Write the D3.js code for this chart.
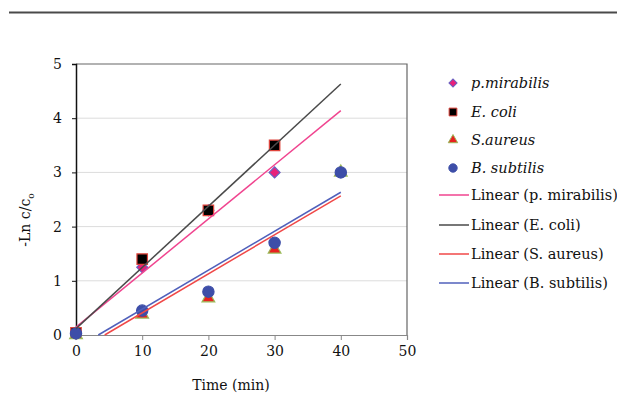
<!DOCTYPE html>
<html>
<head>
<meta charset="utf-8">
<script src="https://cdn.jsdelivr.net/npm/d3@7"></script>
<style>
  body { margin: 0; background: #fff; }
  text { font-family: 'DejaVu Serif', serif; }
</style>
</head>
<body>
<div class="canvas"></div>
<script>
// time points (min)
const times = [0, 10, 20, 30, 40]

// -Ln c/c0 per organism
const mirabilis = [0.02, 1.25, 2.3, 3.0]
const ecoli = [0.04, 1.4, 2.3, 3.5]
const aureus = [0.0, 0.38, 0.68, 1.58, 3.0]
const subtilis = [0.03, 0.45, 0.8, 1.7, 3.0]

const xTicks = [0, 10, 20, 30, 40, 50]
const yTicks = [0, 1, 2, 3, 4, 5]

const diamond = d3.symbolSquare
const series = [
  { name: 'p.mirabilis', line: 'Linear (p. mirabilis)', values: mirabilis, shape: diamond, rot: 45, size: 60, fill: '#e8207a', stroke: '#6a5fc0', lineColor: '#f0448f' },
  { name: 'E. coli', line: 'Linear (E. coli)', values: ecoli, shape: d3.symbolSquare, rot: 0, size: 110, fill: '#000', stroke: '#e0443c', lineColor: '#4a4a4a' },
  { name: 'S.aureus', line: 'Linear (S. aureus)', values: aureus, shape: d3.symbolTriangle, rot: 0, size: 70, fill: '#e82020', stroke: '#9bbb59', lineColor: '#f04848' },
  { name: 'B. subtilis', line: 'Linear (B. subtilis)', values: subtilis, shape: d3.symbolCircle, rot: 0, size: 100, fill: '#3d4ea8', stroke: '#3d4ea8', lineColor: '#5060bb' }
]

const svg = d3.select('.canvas').append('svg')
  .attr('width', 617)
  .attr('height', 396)

// rule across the top
svg.append('line')
  .attr('x1', 9).attr('x2', 617)
  .attr('y1', 12.5).attr('y2', 12.5)
  .attr('stroke', '#4a4a4a')
  .attr('stroke-width', 2)

const x = d3.scaleLinear().domain([0, 50]).range([76, 407])
const y = d3.scaleLinear().domain([0, 5]).range([335, 64])

// gridlines
svg.append('g')
  .selectAll('line')
  .data(yTicks.slice(1, -1))
  .join('line')
  .attr('x1', x(0)).attr('x2', x(50))
  .attr('y1', d => y(d)).attr('y2', d => y(d))
  .attr('stroke', '#dcdcdc')

// plot frame (top and right)
svg.append('path')
  .attr('d', `M${x(0)},${y(5)}H${x(50)}V${y(0)}`)
  .attr('fill', 'none')
  .attr('stroke', '#666')
  .attr('stroke-width', 1.2)

const xAxis = svg.append('g')
  .attr('transform', `translate(0,${y(0)})`)
  .call(d3.axisBottom(x).tickValues(xTicks).tickSize(5).tickPadding(6).tickFormat(d3.format('d')))
xAxis.select('.domain').attr('stroke', '#888').attr('stroke-width', 1.2)
xAxis.selectAll('.tick line').attr('stroke', '#888')
xAxis.selectAll('text').attr('font-size', 14).attr('fill', '#111')
  .style('font-family', "'DejaVu Serif', serif")

const yAxis = svg.append('g')
  .attr('transform', `translate(${x(0)},0)`)
  .call(d3.axisLeft(y).tickValues(yTicks).tickSize(4).tickPadding(10).tickFormat(d3.format('d')))
yAxis.select('.domain').attr('stroke', '#111').attr('stroke-width', 1.5)
yAxis.selectAll('.tick line').attr('stroke', '#111')
yAxis.selectAll('text').attr('font-size', 14).attr('fill', '#111')
  .style('font-family', "'DejaVu Serif', serif")

// markers, drawn in series order
series.forEach(s => {
  svg.append('g')
    .selectAll('path')
    .data(s.values)
    .join('path')
    .attr('d', d3.symbol().type(s.shape).size(s.size))
    .attr('transform', (d, i) => `translate(${x(times[i])},${y(d)}) rotate(${s.rot})`)
    .attr('fill', s.fill)
    .attr('stroke', s.stroke)
    .attr('stroke-width', 1.2)
})

// least squares trend lines, clipped at y = 0
function fit(vals) {
  const xs = times.slice(0, vals.length)
  const mx = d3.mean(xs), my = d3.mean(vals)
  const b = d3.sum(xs, (t, i) => (t - mx) * (vals[i] - my)) / d3.sum(xs, t => (t - mx) ** 2)
  return { a: my - b * mx, b: b }
}

series.forEach(s => {
  const f = fit(s.values)
  let x0 = 0
  if (f.a < 0) x0 = -f.a / f.b
  const x1 = 40
  svg.append('line')
    .attr('x1', x(x0)).attr('y1', y(f.a + f.b * x0))
    .attr('x2', x(x1)).attr('y2', y(f.a + f.b * x1))
    .attr('stroke', s.lineColor)
    .attr('stroke-width', 1.5)
})

// axis titles
svg.append('text')
  .attr('transform', 'translate(30,220) rotate(-90)')
  .attr('text-anchor', 'middle')
  .attr('font-size', 14)
  .attr('fill', '#111')
  .html('-Ln c/c<tspan font-size="9" dy="4">o</tspan>')

svg.append('text')
  .attr('x', 231).attr('y', 390)
  .attr('text-anchor', 'middle')
  .attr('font-size', 14)
  .attr('fill', '#111')
  .text('Time (min)')

// legend
const legend = svg.append('g')
const markerRows = [83, 112, 140, 168]
const lineRows = [195, 225, 254, 283]

series.forEach((s, i) => {
  legend.append('path')
    .attr('d', d3.symbol().type(s.shape).size(s.size * 0.55))
    .attr('transform', `translate(453,${markerRows[i]}) rotate(${s.rot})`)
    .attr('fill', s.fill)
    .attr('stroke', s.stroke)
    .attr('stroke-width', 1)
  legend.append('text')
    .attr('x', 471).attr('y', markerRows[i] + 5)
    .attr('font-size', 14.5)
    .attr('font-style', 'italic')
    .attr('fill', '#111')
    .text(s.name)
})

series.forEach((s, i) => {
  legend.append('line')
    .attr('x1', 439).attr('x2', 469)
    .attr('y1', lineRows[i]).attr('y2', lineRows[i])
    .attr('stroke', s.lineColor)
    .attr('stroke-width', 1.5)
  legend.append('text')
    .attr('x', 471).attr('y', lineRows[i] + 5)
    .attr('font-size', 14.5)
    .attr('fill', '#111')
    .text(s.line)
})
</script>
</body>
</html>
